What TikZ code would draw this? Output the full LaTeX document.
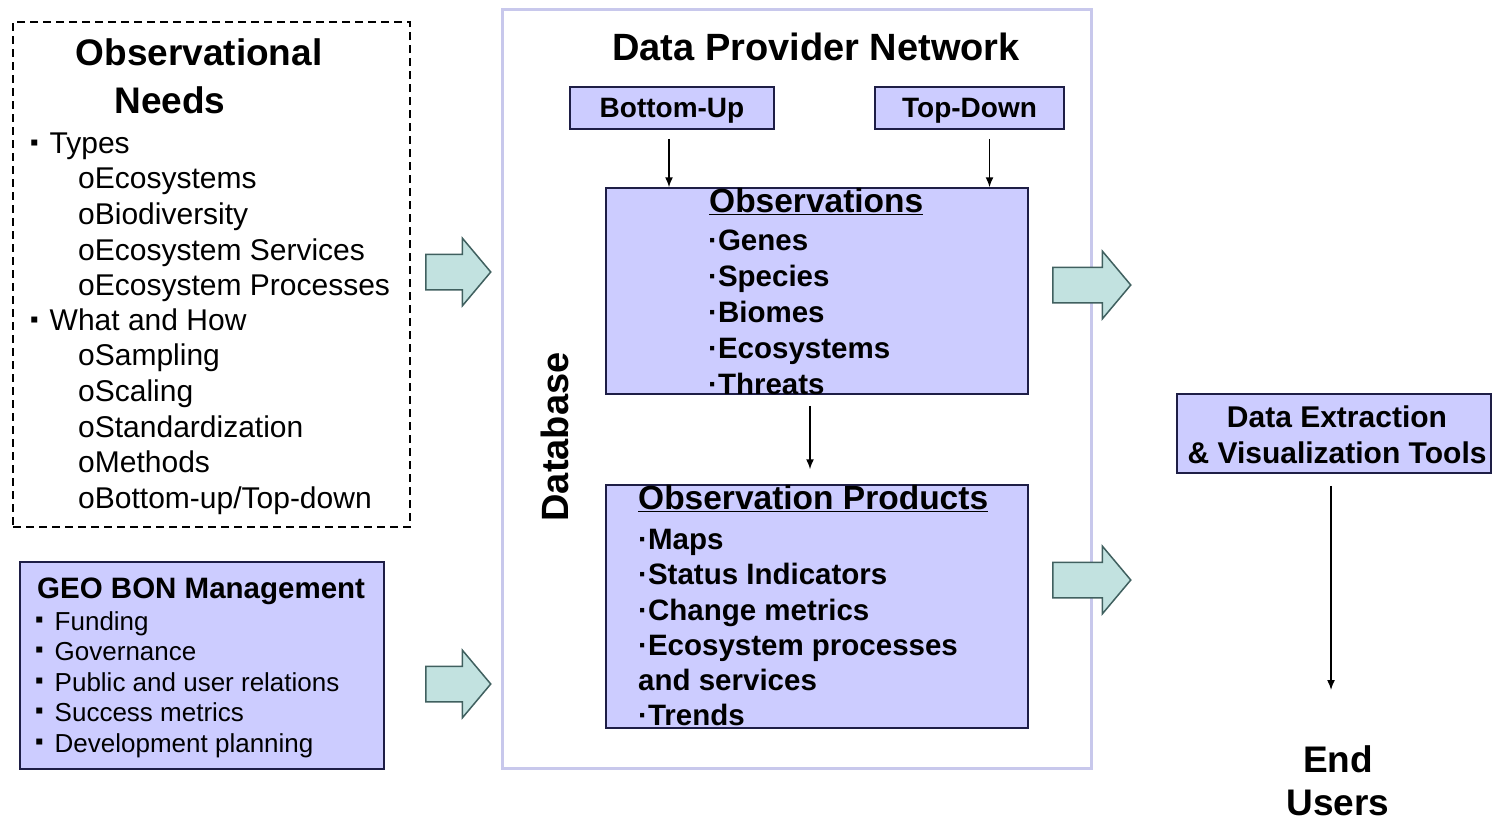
\documentclass[tikz,border=0pt]{standalone}
\usepackage{fontspec}
\setmainfont{Liberation Sans}
\usetikzlibrary{arrows.meta,shapes.arrows,positioning,calc}

\definecolor{boxfill}{HTML}{CCCCFF}
\definecolor{boxline}{HTML}{1E1E46}
\definecolor{dbline}{HTML}{C8C8EC}
\definecolor{arrowfill}{HTML}{C2E2E0}
\definecolor{arrowline}{HTML}{40605F}

\newcommand{\sqbullet}{{\fontsize{24}{24}\selectfont\raisebox{0.12em}{▪}}}

\begin{document}
\begin{tikzpicture}[x=1pt,y=-1pt,
    % boxes
    lavbox/.style={rectangle, draw=boxline, fill=boxfill, line width=1.5pt, inner sep=0pt},
    dashbox/.style={rectangle, draw=black, dash pattern=on 8pt off 5pt, line width=1.3pt, inner sep=0pt},
    dbbox/.style={rectangle, draw=dbline, line width=3pt, inner sep=0pt},
    % texts
    needtxt/.style={inner sep=0pt, anchor=base west, font=\fontsize{30}{36}\selectfont},
    mgmttxt/.style={inner sep=0pt, anchor=base west, font=\fontsize{26}{30}\selectfont},
    itemtxt/.style={inner sep=0pt, anchor=base west, font=\bfseries\fontsize{29.5}{36}\selectfont},
    headtxt/.style={inner sep=0pt, anchor=base, font=\bfseries\fontsize{37}{44}\selectfont},
    labeltxt/.style={inner sep=0pt, anchor=base, font=\bfseries\fontsize{30}{36}\selectfont},
    % connectors
    thinarrow/.style={-{Latex[length=10pt,width=8pt]}, line width=1.5pt},
    blockarrow/.style={single arrow, draw=arrowline, fill=arrowfill, line width=1.5pt,
        inner xsep=0pt, inner ysep=17pt, single arrow head extend=16pt,
        single arrow tip angle=100, minimum height=#1, anchor=west}
]
\useasboundingbox (0,0) rectangle (1493,822);

% observational needs
\node[dashbox, minimum width=397pt, minimum height=505pt] (needbox) at (211.5,274.5) {};
\node[headtxt] (needtitle1) at (199,65) {Observational};
\node[headtxt] (needtitle2) at (170,113) {Needs};
\node[needtxt] (types) at (30,153) {\sqbullet\hspace{11pt}Types};
\foreach \txt [count=\i] in {oEcosystems, oBiodiversity, oEcosystem Services, oEcosystem Processes}
    \node[needtxt] (type\i) at (78,{153+35.7*\i}) {\txt};
\node[needtxt] (whathow) at (30,330) {\sqbullet\hspace{11pt}What and How};
\foreach \txt [count=\i] in {oSampling, oScaling, oStandardization, oMethods, oBottom-up/Top-down}
    \node[needtxt] (how\i) at (78,{330+35.7*\i}) {\txt};

% management
\node[lavbox, minimum width=364pt, minimum height=207pt] (mgmtbox) at (202,665.5) {};
\node[inner sep=0pt, anchor=base west, font=\bfseries\fontsize{29.5}{30}\selectfont] (mgmttitle) at (37,598) {GEO BON Management};
\foreach \txt [count=\i] in {Funding, Governance, Public and user relations, Success metrics, Development planning}
    \node[mgmttxt] (mgmt\i) at (35,{599.5+30.5*\i}) {\sqbullet\hspace{11pt}\txt};

% inputs
\node[blockarrow=65pt] (needarrow) at (425,272) {};
\node[blockarrow=65pt] (mgmtarrow) at (425,684) {};

% database and provider network
\node[dbbox, minimum width=589pt, minimum height=759pt] (dbbox) at (796.5,388.5) {};
\node[headtxt, font=\bfseries\fontsize{38}{44}\selectfont] (network) at (816,60) {Data Provider Network};
\node[lavbox, minimum width=204pt, minimum height=42pt, text depth=1pt, font=\bfseries\fontsize{28}{30}\selectfont] (bottomup) at (672,108) {Bottom-Up};
\node[lavbox, minimum width=189pt, minimum height=42pt, text depth=1pt, font=\bfseries\fontsize{28}{30}\selectfont] (topdown) at (969.5,108) {Top-Down};
\node[rotate=90, inner sep=0pt, font=\bfseries\fontsize{38}{40}\selectfont] (database) at (555,437) {Database};

% observations
\node[lavbox, minimum width=422pt, minimum height=206pt] (obsbox) at (817,291) {};
\node[itemtxt, font=\bfseries\fontsize{33.5}{36}\selectfont] (obstitle) at (709,212) {\underline{Observations}};
\foreach \txt [count=\i] in {·Genes, ·Species, ·Biomes, ·Ecosystems, ·Threats}
    \node[itemtxt] (obs\i) at (708,{214+36*\i}) {\txt};

% observation products
\node[lavbox, minimum width=422pt, minimum height=243pt] (prodbox) at (817,606.5) {};
\node[itemtxt, font=\bfseries\fontsize{33.5}{36}\selectfont] (prodtitle) at (638,509) {\underline{Observation Products}};
\foreach \txt [count=\i] in {·Maps, ·Status Indicators, ·Change metrics, ·Ecosystem processes, and services, ·Trends}
    \node[itemtxt] (prod\i) at (638,{514.5+35.2*\i}) {\txt};

\draw[thinarrow, shorten <=9pt] ([xshift=-3pt]bottomup.south) -- ([xshift=-3pt]bottomup.south |- obsbox.north);
\draw[thinarrow, shorten <=9pt] ([xshift=20pt]topdown.south) -- ([xshift=20pt]topdown.south |- obsbox.north);
\draw[thinarrow, shorten <=11pt, shorten >=15pt] ([xshift=-7pt]obsbox.south) -- ([xshift=-7pt]prodbox.north);

% outputs
\node[blockarrow=78pt] (obsarrow) at (1052,285) {};
\node[blockarrow=78pt] (prodarrow) at (1052,580) {};

% tools and users
\node[lavbox, minimum width=314pt, minimum height=79pt] (toolbox) at (1334,433.5) {};
\node[labeltxt] (tools1) at (1337,427) {Data Extraction};
\node[labeltxt] (tools2) at (1337,463) {\& Visualization Tools};
\node[headtxt] (users1) at (1338,772) {End};
\node[headtxt] (users2) at (1338,815) {Users};
\coordinate (userstop) at (1331,690);
\draw[thinarrow, shorten <=12pt] (toolbox.south -| userstop) -- (userstop);

\end{tikzpicture}
\end{document}
